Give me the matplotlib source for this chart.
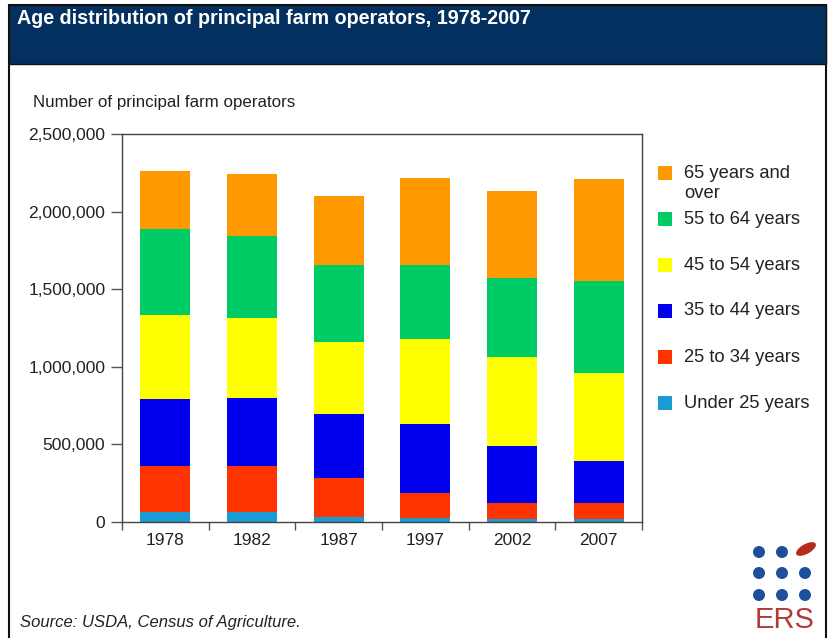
import numpy as np
import matplotlib.pyplot as plt
from matplotlib.patches import Rectangle, Ellipse

plt.rcParams['font.family'] = ['Liberation Sans', 'DejaVu Sans']

# =====================================================================
# Data
# =====================================================================

years = ['1978', '1982', '1987', '1997', '2002', '2007']
age_groups = ['Under 25 years', '25 to 34 years', '35 to 44 years',
              '45 to 54 years', '55 to 64 years', '65 years and\nover']

under_25 = [67_000, 67_000, 32_000, 24_000, 21_000, 17_000]
age_25_34 = [294_000, 294_000, 252_000, 165_000, 103_000, 108_000]
age_35_44 = [433_000, 441_000, 410_000, 441_000, 368_000, 267_000]
age_45_54 = [539_000, 510_000, 467_000, 550_000, 570_000, 566_000]
age_55_64 = [553_000, 529_000, 495_000, 476_000, 512_000, 593_000]
age_65_up = [378_000, 402_000, 445_000, 563_000, 559_000, 658_000]

series = [under_25, age_25_34, age_35_44, age_45_54, age_55_64, age_65_up]
colors = ['#1a9bd4', '#ff3300', '#0000ee', '#ffff00', '#00cc66', '#ff9900']

y_ticks = [0, 500_000, 1_000_000, 1_500_000, 2_000_000, 2_500_000]

# =====================================================================
# Figure
# =====================================================================

W, H = 830, 638
fig = plt.figure(figsize=(W / 100, H / 100), dpi=100)

# Outer frame and navy header band
fig.patches.append(Rectangle((9 / W, -0.01), 817 / W, 1.01 - 5 / H, transform=fig.transFigure,
                             facecolor='none', edgecolor='#111111', lw=1.5, zorder=0))
fig.patches.append(Rectangle((9 / W, 1 - 64 / H), 817 / W, 59 / H, transform=fig.transFigure,
                             facecolor='#03305f', edgecolor='#111111', lw=1.0, zorder=1))
fig.text(17 / W, 1 - 18 / H, 'Age distribution of principal farm operators, 1978-2007',
         color='white', fontsize=14.2, fontweight='bold', ha='left', va='center')

ax = fig.add_axes([122 / W, 1 - 522 / H, 520 / W, 388 / H], zorder=2)

x = np.arange(len(years))
bottom = np.zeros(len(years))
for vals, col in zip(series, colors):
    ax.bar(x, vals, width=0.58, bottom=bottom, color=col, edgecolor='none')
    bottom += np.array(vals)

ax.set_xlim(-0.5, len(years) - 0.5)
ax.set_ylim(0, 2_500_000)
ax.set_yticks(y_ticks)
ax.set_yticklabels([f"{v:,}" for v in y_ticks])
ax.set_xticks(x)
ax.set_xticklabels(years)
ax.set_xticks(np.arange(-0.5, len(years)), minor=True)
ax.tick_params(axis='x', which='major', length=0, pad=8, labelsize=12.5, colors='#222222')
ax.tick_params(axis='x', which='minor', length=6, width=1, color='#555555', direction='out')
ax.tick_params(axis='y', length=8, width=1, color='#555555', pad=4, labelsize=12.5, labelcolor='#222222')
for sp in ax.spines.values():
    sp.set_color('#444444')
    sp.set_linewidth(1.0)

fig.text(33 / W, 1 - 103 / H, 'Number of principal farm operators', fontsize=12.2,
         color='#222222', ha='left', va='center')

# Legend drawn by hand so rows keep a fixed spacing
legend_y = [403, 357, 311, 265, 219, 173]
for lab, col, ly in zip(age_groups, colors, legend_y):
    fig.patches.append(Rectangle((658 / W, 1 - (ly + 7) / H), 14 / W, 14 / H,
                                 transform=fig.transFigure, facecolor=col, edgecolor='none'))
    first, *rest = lab.split('\n')
    fig.text(684 / W, 1 - ly / H, first, fontsize=13.2, color='#222222', ha='left', va='center')
    for k, line in enumerate(rest):
        fig.text(684 / W, 1 - (ly + 20 * (k + 1)) / H, line, fontsize=13.2, color='#222222',
                 ha='left', va='center')

fig.text(20 / W, 1 - 622 / H, 'Source: USDA, Census of Agriculture.', fontsize=12,
         style='italic', color='#222222', ha='left', va='center')

# ERS logo: 3x3 dots with a leaf in the top-right corner
for row, cy in enumerate([552, 573, 595]):
    for col, cx in enumerate([759, 782, 805]):
        if row == 0 and col == 2:
            continue
        fig.patches.append(Ellipse((cx / W, 1 - cy / H), 12 / W, 12 / H, transform=fig.transFigure,
                                   facecolor='#1f4f9c', edgecolor='none'))
fig.patches.append(Ellipse((806 / W, 1 - 549 / H), 24 / W, 9 / H, angle=40, transform=fig.transFigure,
                           facecolor='#b82a1e', edgecolor='none'))
fig.text(785 / W, 1 - 620 / H, 'ERS', fontsize=21, color='#b03a3a', ha='center', va='center')

fig.savefig('out.png', dpi=100)
